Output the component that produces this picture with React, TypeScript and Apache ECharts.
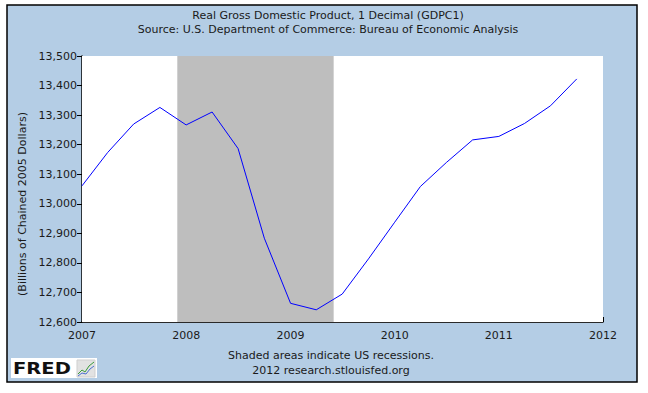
import React, { useEffect, useRef } from "react";
import * as echarts from "echarts";

const quarters = [
  "2007-01-01", "2007-04-01", "2007-07-01", "2007-10-01",
  "2008-01-01", "2008-04-01", "2008-07-01", "2008-10-01",
  "2009-01-01", "2009-04-01", "2009-07-01", "2009-10-01",
  "2010-01-01", "2010-04-01", "2010-07-01", "2010-10-01",
  "2011-01-01", "2011-04-01", "2011-07-01", "2011-10-01",
];
const gdpValues = [
  13060.7, 13173.6, 13269.8, 13326.0,
  13266.8, 13310.5, 13186.9, 12883.5,
  12663.2, 12641.3, 12694.5, 12813.5,
  12937.7, 13058.5, 13139.6, 13216.1,
  13227.9, 13271.8, 13331.6, 13422.4,
];
const recessionStart = "2007-12-01";
const recessionEnd = "2009-06-01";
const xMin = "2007-01-01";
const xMax = "2012-01-01";
const yMin = 12600;
const yMax = 13500;
const yStep = 100;

const titleText = "Real Gross Domestic Product, 1 Decimal (GDPC1)";
const subtitleText = "Source: U.S. Department of Commerce: Bureau of Economic Analysis";
const yAxisName = "(Billions of Chained 2005 Dollars)";
const noteText = "Shaded areas indicate US recessions.";
const creditText = "2012 research.stlouisfed.org";

const FONT = "'DejaVu Sans', Verdana, sans-serif";

export default function App() {
  const ref = useRef<HTMLDivElement>(null);
  useEffect(() => {
    if (!ref.current) return;
    const chart = echarts.init(ref.current, null, { renderer: "svg" });
    chart.setOption({
      animation: false,
      backgroundColor: "#ffffff",
      textStyle: { fontFamily: FONT },
      grid: {
        left: 82,
        top: 56,
        right: 45,
        bottom: 71,
        show: true,
        backgroundColor: "#ffffff",
        borderWidth: 0,
        z: 1,
      },
      xAxis: {
        type: "time",
        min: xMin,
        max: xMax,
        minInterval: 365 * 24 * 3600 * 1000,
        splitNumber: 5,
        axisLine: { show: true, lineStyle: { color: "#000", width: 1.5 } },
        axisTick: { show: true, inside: true, length: 5, lineStyle: { color: "#000", width: 1 } },
        axisLabel: {
          formatter: "{yyyy}",
          color: "#1a1a1a",
          fontSize: 11,
          fontFamily: FONT,
          margin: 8,
          showMinLabel: true,
          showMaxLabel: true,
          hideOverlap: false,
        },
        splitLine: { show: false },
      },
      yAxis: {
        type: "value",
        min: yMin,
        max: yMax,
        interval: yStep,
        axisLine: { show: true, lineStyle: { color: "#000", width: 1.5 } },
        axisTick: { show: true, inside: false, length: 5, lineStyle: { color: "#000", width: 1 } },
        axisLabel: {
          color: "#1a1a1a",
          fontSize: 11,
          fontFamily: FONT,
          margin: 5,
          formatter: (v: number) => v.toLocaleString("en-US"),
        },
        splitLine: { show: true, lineStyle: { color: "#a6a6a6", width: 1 } },
      },
      graphic: [
        {
          type: "rect",
          z: -10,
          silent: true,
          shape: { x: 7, y: 5, width: 630, height: 377 },
          style: { fill: "#b4cde5", stroke: "#000", lineWidth: 1.5 },
        },
        {
          type: "text",
          x: 328,
          y: 15,
          style: {
            text: titleText,
            font: `11px ${FONT}`,
            fill: "#1a1a1a",
            textAlign: "center",
            textVerticalAlign: "middle",
          },
        },
        {
          type: "text",
          x: 328,
          y: 29,
          style: {
            text: subtitleText,
            font: `11px ${FONT}`,
            fill: "#1a1a1a",
            textAlign: "center",
            textVerticalAlign: "middle",
          },
        },
        {
          type: "text",
          x: 22,
          y: 204,
          rotation: Math.PI / 2,
          style: {
            text: yAxisName,
            font: `11px ${FONT}`,
            fill: "#1a1a1a",
            textAlign: "center",
            textVerticalAlign: "middle",
          },
        },
        {
          type: "text",
          x: 331,
          y: 355,
          style: {
            text: noteText,
            font: `11px ${FONT}`,
            fill: "#1a1a1a",
            textAlign: "center",
            textVerticalAlign: "middle",
          },
        },
        {
          type: "text",
          x: 331,
          y: 370,
          style: {
            text: creditText,
            font: `11px ${FONT}`,
            fill: "#1a1a1a",
            textAlign: "center",
            textVerticalAlign: "middle",
          },
        },
        {
          type: "rect",
          shape: { x: 11, y: 358, width: 86, height: 20 },
          style: { fill: "#ffffff" },
        },
        {
          type: "text",
          x: 13,
          y: 368.5,
          scaleX: 1.22,
          style: {
            text: "FRED",
            font: `900 16px ${FONT}`,
            fill: "#111",
            textAlign: "left",
            textVerticalAlign: "middle",
          },
        },
        {
          type: "rect",
          shape: { x: 77, y: 360, width: 18, height: 17 },
          style: { fill: "#e2e2e2", stroke: "#cfcfcf", lineWidth: 1 },
        },
        {
          type: "polyline",
          shape: { points: [[78, 374], [82, 370], [85, 372], [89, 366], [94, 362]] },
          style: { stroke: "#3a9a3a", lineWidth: 1, fill: "none" },
        },
        {
          type: "polyline",
          shape: { points: [[78, 376], [82, 373], [86, 374], [90, 369], [94, 366]] },
          style: { stroke: "#4a6fd0", lineWidth: 1, fill: "none" },
        },
      ],
      series: [
        {
          type: "line",
          data: quarters.map((d, i) => [d, gdpValues[i]]),
          showSymbol: false,
          symbol: "none",
          lineStyle: { color: "#0000ff", width: 1 },
          z: 3,
          markArea: {
            silent: true,
            itemStyle: { color: "#bebebe", opacity: 1 },
            data: [[{ xAxis: recessionStart }, { xAxis: recessionEnd }]],
          },
        },
      ],
    });
    return () => chart.dispose();
  }, []);
  return (
    <div
      ref={ref}
      style={{ position: "fixed", left: 0, top: 0, width: 648, height: 393 }}
    />
  );
}
